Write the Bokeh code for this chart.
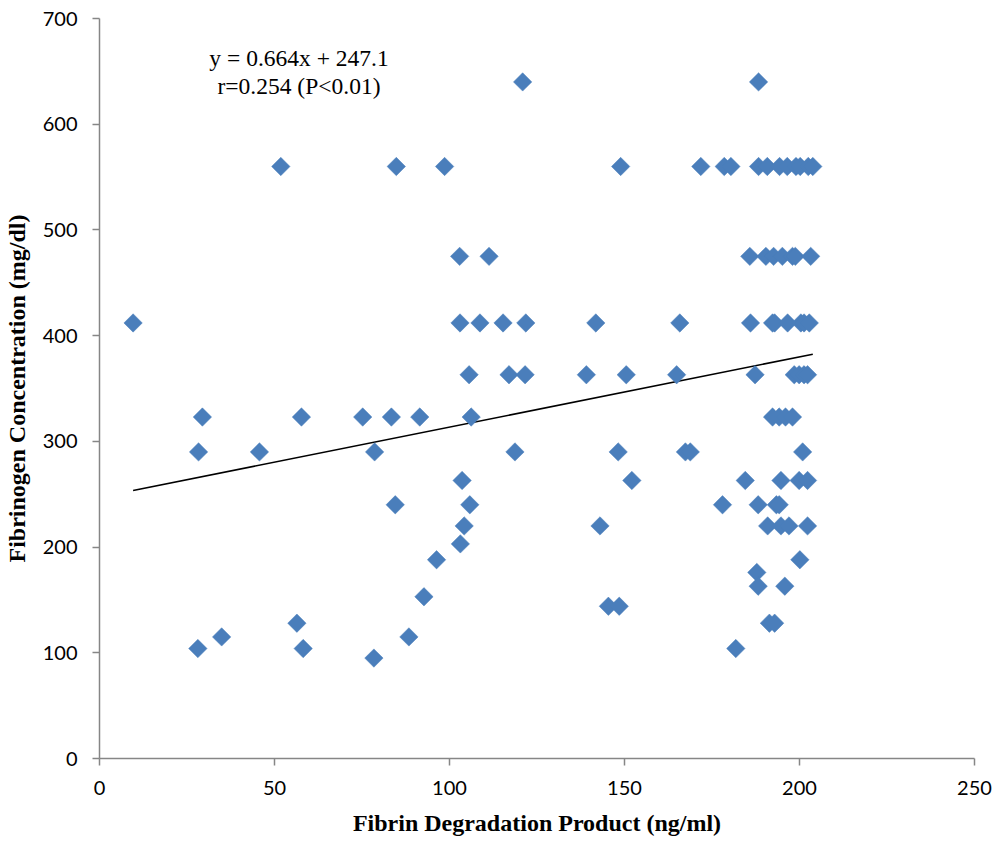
import math
from bokeh.plotting import figure
from bokeh.models import Range1d, Label, FixedTicker
from bokeh.embed import file_html
from bokeh.resources import INLINE

# ---- data ----
fdp = [
    120.9, 188.3,
    51.8, 84.8, 98.6, 148.9, 171.8, 178.5, 180.4, 188.3, 190.8, 194.3, 196.5, 199.0, 200.2, 202.5, 203.8,
    102.9, 111.3, 185.8, 190.4, 192.6, 195.1, 198.0, 198.8, 203.2,
    9.6, 103.0, 108.7, 115.3, 121.8, 141.8, 165.8, 186.0, 192.3, 192.9, 196.6, 200.4, 201.3, 202.8,
    105.6, 117.0, 121.6, 139.1, 150.5, 164.9, 187.3, 198.5, 199.9, 201.3, 202.3,
    29.4, 57.7, 75.2, 83.4, 91.5, 106.2, 192.3, 194.2, 196.0, 198.0,
    28.3, 45.7, 78.6, 118.7, 148.2, 167.4, 168.8, 200.9,
    103.6, 152.1, 184.5, 194.7, 199.9, 202.3,
    84.5, 105.8, 178.0, 188.2, 193.4, 194.2,
    104.2, 143.0, 190.9, 194.7, 197.0, 202.3,
    103.1,
    96.3, 200.1,
    187.8,
    188.2, 195.8,
    92.7,
    145.4, 148.5,
    56.4, 191.4, 192.9,
    34.9, 88.4,
    28.1, 58.2, 181.8,
    78.4,
]
fibrinogen = (
    [640] * 2 + [560] * 15 + [475] * 9 + [412] * 14 + [363] * 11 + [323] * 10 +
    [290] * 8 + [263] * 6 + [240] * 6 + [220] * 6 + [203] * 1 + [188] * 2 +
    [176] * 1 + [163] * 2 + [153] * 1 + [144] * 2 + [128] * 3 + [115] * 2 +
    [104] * 3 + [95] * 1
)
slope = 0.664
intercept = 247.1
x_ticks = [0, 50, 100, 150, 200, 250]
y_ticks = [0, 100, 200, 300, 400, 500, 600, 700]
eq_line1 = "y = 0.664x + 247.1"
eq_line2 = "r=0.254 (P<0.01)"

x_min, x_max = min(fdp), max(fdp)
trend_x = [x_min, x_max]
trend_y = [slope * v + intercept for v in trend_x]

p = figure(
    frame_width=875, frame_height=740,
    x_range=Range1d(0, 250), y_range=Range1d(0, 700),
    output_backend="svg", toolbar_location=None,
    min_border_left=97, min_border_right=18, min_border_top=18, min_border_bottom=82,
)
p.outline_line_color = None
p.xgrid.visible = False
p.ygrid.visible = False
p.background_fill_color = "white"
p.border_fill_color = "white"

axis_col = "#868686"
for ax in (p.xaxis[0], p.yaxis[0]):
    ax.axis_line_color = axis_col
    ax.axis_line_width = 1.5
    ax.major_tick_line_color = axis_col
    ax.major_tick_line_width = 1.5
    ax.major_tick_in = 0
    ax.major_tick_out = 7
    ax.minor_tick_line_color = None
    ax.major_label_text_font = "Lato"
    ax.major_label_text_font_size = "20px"
    ax.major_label_text_color = "black"
    ax.axis_label_text_font = "Liberation Serif"
    ax.axis_label_text_font_style = "bold"
    ax.axis_label_text_font_size = "24px"
    ax.axis_label_text_color = "black"

p.xaxis[0].ticker = FixedTicker(ticks=x_ticks)
p.yaxis[0].ticker = FixedTicker(ticks=y_ticks)
p.xaxis[0].major_label_standoff = 15
p.yaxis[0].major_label_standoff = 15
p.xaxis[0].axis_label = "Fibrin Degradation Product (ng/ml)"
p.yaxis[0].axis_label = "Fibrinogen Concentration (mg/dl)"
p.xaxis[0].axis_label_standoff = 12
p.yaxis[0].axis_label_standoff = 10

p.line(trend_x, trend_y, line_color="black", line_width=1.6)
p.scatter(fdp, fibrinogen, marker="square", angle=math.pi / 4, size=13,
          fill_color="#4A7EBB", line_color="#4A7EBB", line_width=0.5)

for txt, yv in ((eq_line1, 663), (eq_line2, 636)):
    p.add_layout(Label(x=57, y=yv, text=txt, text_align="center", text_baseline="alphabetic",
                       text_font="Liberation Serif", text_font_size="23.5px", text_color="black"))

open("out.html", "w").write(file_html(p, INLINE))
